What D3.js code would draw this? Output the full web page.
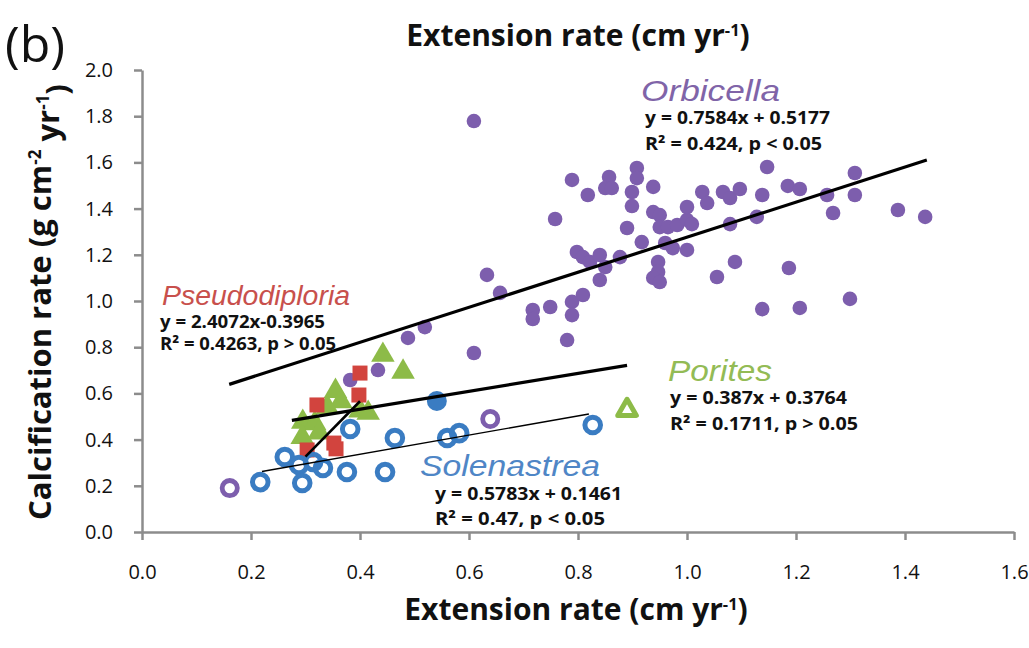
<!DOCTYPE html>
<html>
<head>
<meta charset="utf-8">
<script src="https://cdn.jsdelivr.net/npm/d3@7"></script>
<style>
  body { margin: 0; background: #fff; }
  svg { display: block; }
</style>
</head>
<body>
<div id="chart"></div>
<script>
// values: [extension, calcification]
var orbicella = [
  [0.609,1.779],[0.789,1.524],[0.818,1.459],[0.857,1.537],[0.850,1.489],[0.862,1.489],
  [0.908,1.576],[0.908,1.532],[0.899,1.472],[0.899,1.411],[0.938,1.494],[0.758,1.355],
  [0.890,1.316],[0.938,1.385],[0.950,1.372],[0.950,1.320],[0.965,1.320],[0.982,1.329],
  [1.000,1.351],[1.009,1.333],[1.000,1.407],[1.028,1.472],[1.037,1.424],[0.917,1.255],
  [0.960,1.251],[0.974,1.229],[1.000,1.221],[0.798,1.212],[0.809,1.190],[0.822,1.169],
  [0.840,1.199],[0.850,1.147],[0.840,1.091],[0.877,1.190],[0.947,1.169],[0.947,1.126],
  [0.938,1.100],[0.950,1.082],[1.055,1.104],[0.633,1.113],[0.657,1.035],[0.717,0.961],
  [0.717,0.922],[0.749,0.974],[0.789,0.996],[0.789,0.939],[0.809,1.026],[0.780,0.831],
  [0.609,0.775],[0.519,0.887],[0.488,0.840],[0.433,0.701],[0.382,0.658],
  [1.147,1.580],[1.066,1.472],[1.079,1.446],[1.097,1.485],[1.138,1.459],[1.185,1.498],
  [1.207,1.485],[1.308,1.554],[1.308,1.459],[1.257,1.459],[1.268,1.381],[1.128,1.364],
  [1.079,1.333],[1.387,1.394],[1.437,1.364],[1.088,1.169],[1.187,1.143],[1.138,0.965],
  [1.207,0.970],[1.299,1.009]
];
var orbicellaOpen = [[0.161,0.190],[0.639,0.489]];

var porites = [
  [0.442,0.766],[0.479,0.693],[0.355,0.610],[0.365,0.565],[0.340,0.540],[0.295,0.476],
  [0.317,0.470],[0.400,0.525],[0.415,0.515],[0.294,0.410],[0.325,0.430]
];
var poritesOpen = [[0.890,0.528]];

var pseudodiploria = [
  [0.400,0.688],[0.398,0.593],[0.321,0.550],[0.352,0.385],[0.356,0.360],[0.303,0.355]
];

var solenastrea = [
  [0.382,0.446],[0.464,0.407],[0.262,0.325],[0.288,0.290],[0.314,0.303],[0.332,0.277],
  [0.376,0.260],[0.446,0.260],[0.217,0.216],[0.294,0.212],[0.560,0.407],[0.582,0.428],
  [0.827,0.463]
];
var solenastreaFilled = [[0.541,0.567]];

// trend lines as drawn: [x0, y0, x1, y1]
var trendOrbicella = [0.16, 0.639, 1.44, 1.610];
var trendPorites = [0.275, 0.483, 0.89, 0.721];
var trendPseudo = [0.30, 0.326, 0.40, 0.566];
var trendSolen = [0.22, 0.262, 0.82, 0.511];

var xTicks = [0, 0.2, 0.4, 0.6, 0.8, 1.0, 1.2, 1.4, 1.6];
var yTicks = [0, 0.2, 0.4, 0.6, 0.8, 1.0, 1.2, 1.4, 1.6, 1.8, 2.0];

var purple = "#7d5ead", green = "#8dbb48", red = "#d2443e", blue = "#3a7cc2";

var width = 1029, height = 648;
var svg = d3.select("#chart").append("svg")
  .attr("width", width).attr("height", height);

var x = d3.scaleLinear().domain([0, 1.6]).range([142, 1014]);
var y = d3.scaleLinear().domain([0, 2.0]).range([532, 70]);

// axes
var xAxis = svg.append("g")
  .attr("transform", "translate(0," + y(0) + ")")
  .call(d3.axisBottom(x).tickValues(xTicks).tickSize(8).tickSizeOuter(0).tickPadding(25)
        .tickFormat(d3.format(".1f")));
var yAxis = svg.append("g")
  .attr("transform", "translate(" + x(0) + ",0)")
  .call(d3.axisLeft(y).tickValues(yTicks).tickSize(8).tickSizeOuter(0).tickPadding(21)
        .tickFormat(d3.format(".1f")));

[xAxis, yAxis].forEach(function(a) {
  a.select(".domain").attr("stroke", "#8c8c8c").attr("stroke-width", 2.5);
  a.selectAll(".tick line").attr("stroke", "#8c8c8c").attr("stroke-width", 2.5);
  a.selectAll(".tick text")
    .attr("fill", "#111")
    .style("font-family", "'Open Sans', sans-serif")
    .style("font-size", "20px");
});

// trend lines
function trend(t, w) {
  svg.append("line")
    .attr("x1", x(t[0])).attr("y1", y(t[1]))
    .attr("x2", x(t[2])).attr("y2", y(t[3]))
    .attr("stroke", "#000").attr("stroke-width", w);
}

// markers
svg.append("g").selectAll("circle")
  .data(orbicella).enter().append("circle")
  .attr("cx", function(d){return x(d[0]);})
  .attr("cy", function(d){return y(d[1]);})
  .attr("r", 7.3)
  .attr("fill", purple);

svg.append("g").selectAll("circle")
  .data(orbicellaOpen).enter().append("circle")
  .attr("cx", function(d){return x(d[0]);})
  .attr("cy", function(d){return y(d[1]);})
  .attr("r", 7.6)
  .attr("fill", "#fff").attr("stroke", purple).attr("stroke-width", 4.8);

var tri = d3.symbol().type(d3.symbolTriangle).size(240);
svg.append("g").selectAll("path")
  .data(porites).enter().append("path")
  .attr("d", tri)
  .attr("transform", function(d){return "translate(" + x(d[0]) + "," + y(d[1]) + ")";})
  .attr("fill", green);
svg.append("g").selectAll("path")
  .data(poritesOpen).enter().append("path")
  .attr("d", d3.symbol().type(d3.symbolTriangle).size(150))
  .attr("transform", function(d){return "translate(" + x(d[0]) + "," + y(d[1]) + ")";})
  .attr("fill", "#fff").attr("stroke", green).attr("stroke-width", 5)
  .attr("stroke-linejoin", "round");

svg.append("g").selectAll("rect")
  .data(pseudodiploria).enter().append("rect")
  .attr("x", function(d){return x(d[0]) - 7.5;})
  .attr("y", function(d){return y(d[1]) - 7.5;})
  .attr("width", 15).attr("height", 15)
  .attr("fill", red);

svg.append("g").selectAll("circle")
  .data(solenastrea).enter().append("circle")
  .attr("cx", function(d){return x(d[0]);})
  .attr("cy", function(d){return y(d[1]);})
  .attr("r", 7.8)
  .attr("fill", "none").attr("stroke", blue).attr("stroke-width", 5);
svg.append("g").selectAll("circle")
  .data(solenastreaFilled).enter().append("circle")
  .attr("cx", function(d){return x(d[0]);})
  .attr("cy", function(d){return y(d[1]);})
  .attr("r", 10)
  .attr("fill", blue);

trend(trendOrbicella, 3.2);
trend(trendPorites, 3.2);
trend(trendPseudo, 2.6);
trend(trendSolen, 1.4);

// text helper; len stretches the text to the width seen in the figure
function label(tx, ty, txt, opts) {
  var t = svg.append("text").attr("x", tx).attr("y", ty)
    .style("font-family", opts.family || "'Open Sans', sans-serif")
    .style("font-size", opts.size + "px")
    .style("font-weight", opts.weight || "normal")
    .style("font-style", opts.style || "normal")
    .attr("fill", opts.fill || "#111")
    .attr("text-anchor", opts.anchor || "start")
    .text(txt);
  if (opts.len) t.attr("textLength", opts.len).attr("lengthAdjust", "spacingAndGlyphs");
  if (opts.transform) t.attr("transform", opts.transform);
  return t;
}

var lib = "'Liberation Sans', Arial, sans-serif";
label(641, 101, "Orbicella", { family: lib, size: 29, style: "italic", fill: "#8064a8", len: 139 });
label(162, 305, "Pseudodiploria", { family: lib, size: 27, style: "italic", fill: "#c8504c", len: 188 });
label(668, 381, "Porites", { family: lib, size: 29, style: "italic", fill: "#93bb55", len: 104 });
label(420, 476, "Solenastrea", { family: lib, size: 29, style: "italic", fill: "#4f86c6", len: 180 });

label(645, 124, "y = 0.7584x + 0.5177", { size: 18, weight: "bold", len: 185 });
label(645, 150, "R² = 0.424, p < 0.05", { size: 18, weight: "bold", len: 177 });
label(160, 328, "y = 2.4072x-0.3965", { size: 18, weight: "bold", len: 165 });
label(160, 350, "R² = 0.4263, p > 0.05", { size: 18, weight: "bold", len: 176 });
label(670, 404, "y = 0.387x + 0.3764", { size: 18, weight: "bold", len: 177 });
label(670, 430, "R² = 0.1711, p > 0.05", { size: 18, weight: "bold", len: 188 });
label(435, 500, "y = 0.5783x + 0.1461", { size: 18, weight: "bold", len: 187 });
label(435, 525, "R² = 0.47, p < 0.05", { size: 18, weight: "bold", len: 170 });

// panel letter
label(5, 62, "(b)", { size: 50 });

// axis titles with superscripts
function titled(t, main, sup, tail) {
  t.append("tspan").text(main);
  t.append("tspan").attr("dy", "-0.6em").style("font-size", "0.55em").text(sup);
  t.append("tspan").attr("dy", "0.33em").text(tail);
  return t;
}
titled(label(578, 46, "", { size: 30, weight: "bold", anchor: "middle" }), "Extension rate (cm yr", "-1", ")");
titled(label(576, 620, "", { size: 30, weight: "bold", anchor: "middle" }), "Extension rate (cm yr", "-1", ")");

var yt = label(0, 0, "", { size: 31, weight: "bold", anchor: "middle", transform: "translate(51,302) rotate(-90)" });
yt.append("tspan").text("Calcification rate (g cm");
yt.append("tspan").attr("dy", "-0.6em").style("font-size", "0.55em").text("-2");
yt.append("tspan").attr("dy", "0.6em").text(" yr");
yt.append("tspan").attr("dy", "-0.6em").style("font-size", "0.55em").text("-1");
yt.append("tspan").attr("dy", "0.6em").text(")");
</script>
</body>
</html>
